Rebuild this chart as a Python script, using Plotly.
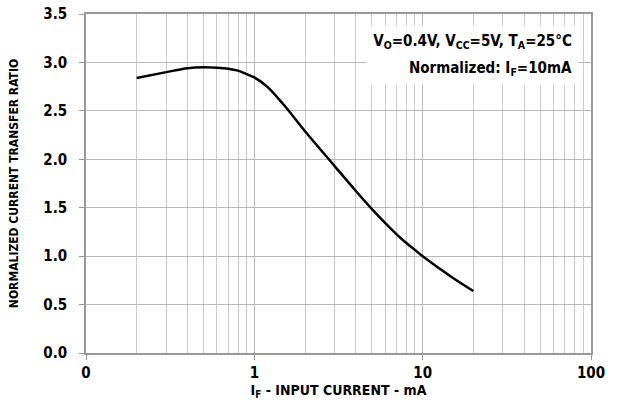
import plotly.graph_objects as go

# Data
input_current_mA = [0.2, 0.3, 0.4, 0.5, 0.6, 0.7, 0.8, 0.9, 1.0, 1.2, 1.5, 2, 3, 4, 5, 6, 7, 8, 9, 10, 15, 20]
normalized_ctr = [2.84, 2.90, 2.94, 2.95, 2.945, 2.935, 2.915, 2.88, 2.845, 2.745, 2.56, 2.29, 1.93, 1.675, 1.485, 1.34, 1.225, 1.135, 1.063, 1.00, 0.78, 0.64]

x_tick_vals = [0.1, 1, 10, 100]
x_tick_text = ["0", "1", "10", "100"]
x_minor_vals = [m * d for d in [0.1, 1, 10] for m in range(2, 10)]
y_tick_vals = [0, 0.5, 1.0, 1.5, 2.0, 2.5, 3.0, 3.5]

FONT = "DejaVu Sans Condensed"

fig = go.Figure()
fig.add_trace(go.Scatter(
    x=input_current_mA, y=normalized_ctr, mode="lines",
    line=dict(color="black", width=2.5, shape="spline", smoothing=0.9),
    showlegend=False, hoverinfo="skip",
))

fig.update_layout(
    width=619, height=416,
    margin=dict(l=86, r=28, t=14, b=63, autoexpand=False),
    paper_bgcolor="white", plot_bgcolor="white",
    font=dict(family=FONT, color="black"),
    xaxis=dict(
        type="log", range=[-1, 2], automargin=False,
        tickmode="array", tickvals=x_tick_vals, ticktext=x_tick_text,
        tickfont=dict(size=15, family=FONT, weight="bold"),
        showgrid=True, gridcolor="#b8b8b8", gridwidth=1,
        ticks="outside", ticklen=5, tickcolor="#999999",
        showline=True, linecolor="#999999", linewidth=1.5, mirror=True,
        minor=dict(tickmode="array", tickvals=x_minor_vals, showgrid=True,
                   gridcolor="#cccccc", gridwidth=1, ticks=""),
        title=dict(text="<b>I<sub>F</sub> - INPUT CURRENT - mA</b>",
                   font=dict(size=14, family=FONT), standoff=0),
        zeroline=False,
    ),
    yaxis=dict(
        range=[0, 3.5], automargin=False,
        tickmode="array", tickvals=y_tick_vals, tickformat=".1f",
        tickfont=dict(size=15, family=FONT, weight="bold"),
        ticklabelstandoff=9,
        showgrid=True, gridcolor="#b8b8b8", gridwidth=1,
        ticks="outside", ticklen=5, tickcolor="#999999",
        showline=True, linecolor="#999999", linewidth=1.5, mirror=True,
        title=dict(text="<b>NORMALIZED CURRENT TRANSFER RATIO</b>",
                   font=dict(size=12, family=FONT), standoff=22),
        zeroline=False,
    ),
)

fig.add_annotation(
    xref="paper", yref="paper", x=0.976, y=0.9676,
    xanchor="right", yanchor="top", align="right", width=199,
    text="<b>V<sub>O</sub>=0.4V, V<sub>CC</sub>=5V, T<sub>A</sub>=25°C</b>",
    showarrow=False, bgcolor="white", borderpad=6,
    font=dict(size=15, family=FONT, color="black"),
)
fig.add_annotation(
    xref="paper", yref="paper", x=0.976, y=0.7906,
    xanchor="right", yanchor="bottom", align="right", width=199,
    text="<b>Normalized: I<sub>F</sub>=10mA</b>",
    showarrow=False, bgcolor="white", borderpad=6,
    font=dict(size=15, family=FONT, color="black"),
)

fig.write_html("out.html", config={"displayModeBar": False},
               post_script="document.body.style.margin='0';")
